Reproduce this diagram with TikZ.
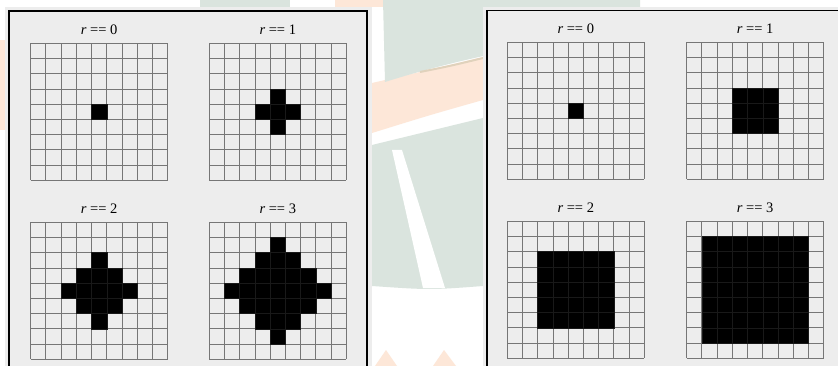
\documentclass[tikz,border=0pt]{standalone}
\usepackage{fontspec}
\setmainfont{Liberation Serif}
\definecolor{panelbg}{HTML}{EDEDED}
\definecolor{wmgreen}{HTML}{DAE4DE}
\definecolor{wmorange}{HTML}{FDE7D8}
\definecolor{wmtan}{HTML}{E0D2BC}
\definecolor{gridc}{HTML}{767676}
\begin{document}
\begin{tikzpicture}[x=1pt,y=-1pt,
  gridline/.style={draw=gridc,line width=0.9pt},
  cellfill/.style={fill=black,draw=black!90!white,line width=0.6pt},
  panel/.style={fill=panelbg},
  frame/.style={draw=black,line width=1.2pt},
  rlabel/.style={font=\fontsize{14.5}{16}\selectfont,inner sep=0pt}]
\useasboundingbox (0,0) rectangle (838,366);
\fill[white] (0,0) rectangle (838,366);
% faint watermark in the background
\fill[wmorange] (372,83) .. controls (420,72) .. (483,57) -- (483,100) .. controls (430,115) .. (372,133) -- cycle;
\fill[wmgreen] (383,0) -- (640,0) -- (640,30) .. controls (560,40) and (470,55) .. (385,82) -- cycle;
\draw[wmtan,line width=2pt] (420,72) .. controls (450,66) .. (483,58);
\fill[wmgreen] (200,0) rectangle (290,7);
\fill[wmorange] (335,0) rectangle (383,7);
\fill[wmorange] (0,40) rectangle (5,130);
\fill[wmgreen] (372,145) -- (483,118) -- (483,286) .. controls (430,290) .. (372,286) -- cycle;
\fill[white] (392,150) -- (402,150) -- (445,288) -- (423,288) -- cycle;
\fill[wmorange] (375,366) -- (386,350) -- (397,366) -- cycle;
\fill[wmorange] (433,366) -- (444,350) -- (456,366) -- cycle;
% panels
\fill[panel] (5,7) rectangle (372,366);
\draw[frame] (9,366) -- (9,11) -- (367,11) -- (367,366);
\fill[panel] (483,7) rectangle (838,366);
\draw[frame] (487,366) -- (487,10.7) -- (838,10.7);
% grids
\def\cs{15.22}
\foreach \gx/\gy/\r/\t/\nm in {30.7/43.3/0/0/a, 209.3/43.3/1/0/b, 30.7/222.3/2/0/c, 209.3/222.3/3/0/d, 507.3/42.3/0/1/e, 686.7/42.3/1/1/f, 507.3/221.3/2/1/g, 686.7/221.3/3/1/h}{
  \foreach \k in {0,...,9}{
    \draw[gridline] ({\gx+\k*\cs},{\gy}) -- ({\gx+\k*\cs},{\gy+9*\cs});
    \draw[gridline] ({\gx},{\gy+\k*\cs}) -- ({\gx+9*\cs},{\gy+\k*\cs});
  }
  \foreach \i in {0,...,8}{
    \foreach \j in {0,...,8}{
      \ifnum\t=0
        \pgfmathtruncatemacro\dd{abs(\i-4)+abs(\j-4)}
      \else
        \pgfmathtruncatemacro\dd{max(abs(\i-4),abs(\j-4))}
      \fi
      \ifnum\dd>\r\relax\else
        \filldraw[cellfill] ({\gx+\i*\cs},{\gy+\j*\cs}) rectangle +(\cs,\cs);
      \fi
    }
  }
  \node[rlabel] (lab\nm) at ({\gx+4.5*\cs},{\gy-13.3}) {{\itshape r} == \r};
}
\end{tikzpicture}
\end{document}
